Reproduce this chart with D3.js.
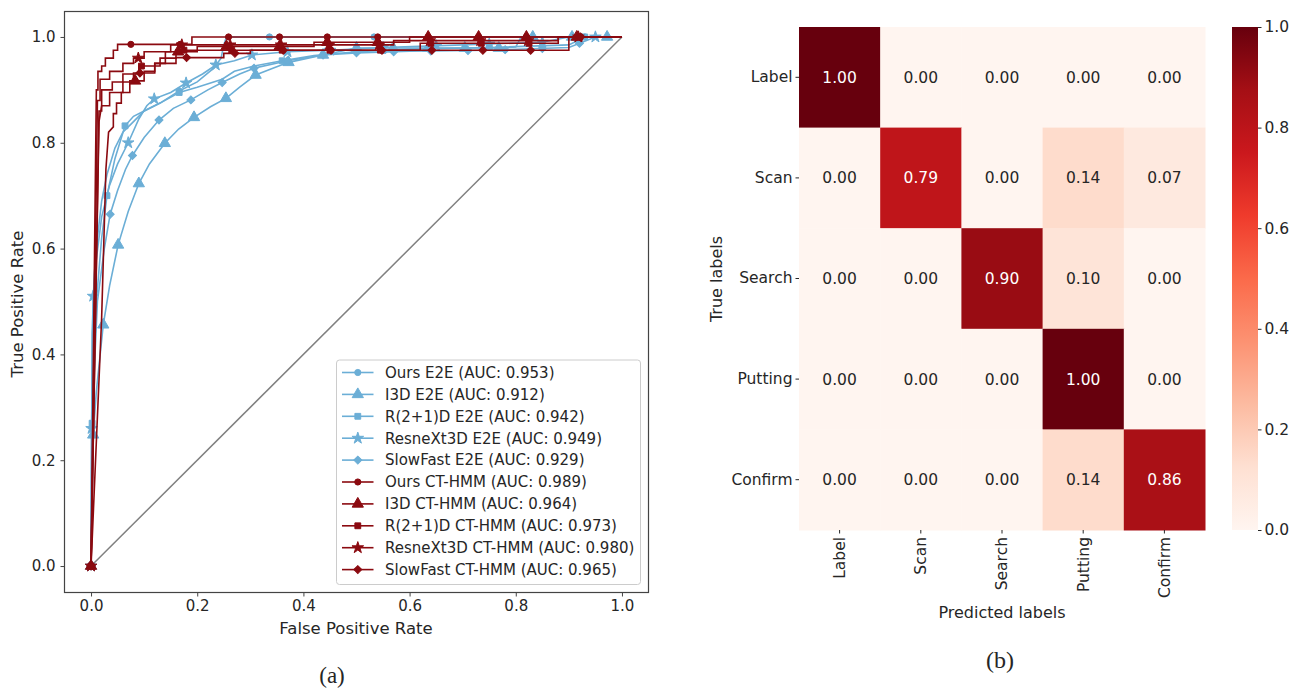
<!DOCTYPE html>
<html lang="en">
<head>
  <meta charset="UTF-8">
  <title>ROC + confusion matrix</title>
  <script src="https://cdn.jsdelivr.net/npm/d3@7"></script>
  <style>
    body { margin: 0; background: #fff; }
    svg text { font-family: "DejaVu Sans", sans-serif; fill: #262626; }
    .caption { font-family: "Liberation Serif", "DejaVu Serif", serif !important; }
  </style>
</head>
<body>
<svg width="1293" height="689"></svg>
<script>
  // ---- ROC curves (fpr, tpr vertices) ----
  const oursE2E = [[0,0],[0.002,0.44],[0.006,0.55],[0.012,0.62],[0.02,0.69],[0.03,0.74],[0.045,0.79],[0.06,0.82],[0.08,0.84],[0.1,0.86],[0.13,0.875],[0.166,0.898],[0.2,0.915],[0.23,0.94],[0.245,0.96],[0.25,0.985],[0.255,1],[1,1]];
  const i3dE2E = [[0,0],[0.004,0.248],[0.01,0.33],[0.023,0.456],[0.035,0.53],[0.051,0.607],[0.07,0.67],[0.09,0.723],[0.11,0.76],[0.139,0.799],[0.165,0.826],[0.194,0.848],[0.225,0.868],[0.254,0.884],[0.28,0.905],[0.31,0.928],[0.34,0.94],[0.372,0.952],[0.437,0.966],[0.5,0.979],[0.768,0.979],[0.8,0.981],[0.81,1],[1,1]];
  const r21dE2E = [[0,0],[0.002,0.27],[0.01,0.5],[0.02,0.62],[0.03,0.7],[0.045,0.77],[0.064,0.832],[0.08,0.85],[0.1,0.86],[0.13,0.875],[0.166,0.895],[0.2,0.905],[0.247,0.92],[0.27,0.935],[0.307,0.945],[0.36,0.955],[0.42,0.965],[0.5,0.972],[0.6,0.977],[0.75,0.98],[0.9,0.985],[0.93,1],[1,1]];
  const resnextE2E = [[0,0],[0.001,0.26],[0.004,0.51],[0.01,0.58],[0.02,0.66],[0.035,0.72],[0.05,0.76],[0.07,0.8],[0.09,0.845],[0.105,0.87],[0.119,0.883],[0.15,0.895],[0.179,0.913],[0.21,0.93],[0.235,0.947],[0.27,0.955],[0.303,0.966],[0.37,0.972],[0.45,0.975],[0.55,0.98],[0.7,0.985],[0.85,0.99],[0.9,1],[1,1]];
  const slowfastE2E = [[0,0],[0.003,0.3],[0.012,0.5],[0.025,0.6],[0.036,0.665],[0.05,0.71],[0.065,0.75],[0.078,0.776],[0.1,0.81],[0.128,0.843],[0.155,0.865],[0.188,0.881],[0.22,0.9],[0.247,0.914],[0.28,0.93],[0.307,0.941],[0.37,0.955],[0.437,0.966],[0.5,0.97],[0.6,0.973],[0.75,0.975],[0.9,0.98],[0.95,1],[1,1]];

  const oursCT = [[0,0],[0.01,0.9],[0.013,0.9],[0.013,0.935],[0.02,0.935],[0.02,0.945],[0.027,0.945],[0.027,0.96],[0.042,0.96],[0.042,0.975],[0.05,0.975],[0.05,0.986],[0.19,0.986],[0.19,1],[1,1]];
  const i3dCT = [[0,0],[0.02,0.47],[0.028,0.75],[0.033,0.82],[0.042,0.83],[0.042,0.855],[0.048,0.855],[0.048,0.875],[0.057,0.875],[0.057,0.895],[0.073,0.895],[0.073,0.917],[0.1,0.917],[0.1,0.935],[0.12,0.935],[0.12,0.95],[0.14,0.95],[0.14,0.972],[0.2,0.972],[0.2,0.982],[0.42,0.982],[0.42,0.99],[0.6,0.99],[0.6,1],[1,1]];
  const r21dCT = [[0,0],[0.015,0.86],[0.02,0.86],[0.02,0.9],[0.04,0.9],[0.04,0.915],[0.06,0.915],[0.06,0.93],[0.09,0.93],[0.09,0.945],[0.13,0.945],[0.13,0.96],[0.16,0.96],[0.16,0.975],[0.62,0.975],[0.62,0.988],[0.88,0.988],[0.88,1],[1,1]];
  const resnextCT = [[0,0],[0.012,0.88],[0.017,0.88],[0.017,0.92],[0.035,0.92],[0.035,0.935],[0.06,0.935],[0.06,0.95],[0.08,0.95],[0.08,0.96],[0.1,0.96],[0.1,0.972],[0.15,0.972],[0.15,0.985],[0.57,0.985],[0.57,0.993],[0.88,0.993],[0.88,1],[1,1]];
  const slowfastCT = [[0,0],[0.015,0.84],[0.02,0.87],[0.035,0.87],[0.035,0.895],[0.06,0.895],[0.06,0.915],[0.08,0.915],[0.08,0.932],[0.12,0.932],[0.12,0.95],[0.16,0.95],[0.16,0.961],[0.25,0.961],[0.25,0.969],[0.3,0.969],[0.3,0.975],[0.9,0.975],[0.9,1],[1,1]];

  // fpr positions of the markers on each curve
  const oursE2EMarks = [0, 0.166, 0.336, 0.533, 0.73, 0.93];
  const i3dE2EMarks = [0, 0.004, 0.023, 0.051, 0.09, 0.139, 0.194, 0.254, 0.31, 0.372, 0.437, 0.5, 0.569, 0.635, 0.704, 0.768, 0.832, 0.906, 0.972];
  const r21dE2EMarks = [0, 0.002, 0.03, 0.064, 0.166, 0.36, 0.55, 0.75, 0.93];
  const resnextE2EMarks = [0, 0.001, 0.004, 0.07, 0.119, 0.179, 0.235, 0.303, 0.37, 0.45, 0.55, 0.65, 0.75, 0.85, 0.95];
  const slowfastE2EMarks = [0, 0.036, 0.078, 0.128, 0.188, 0.247, 0.307, 0.37, 0.437, 0.5, 0.57, 0.64, 0.71, 0.78, 0.85, 0.92];
  const oursCTMarks = [0, 0.075, 0.168, 0.259, 0.355, 0.445, 0.54, 0.635, 0.73, 0.82, 0.915];
  const i3dCTMarks = [0, 0.083, 0.164, 0.255, 0.355, 0.445, 0.54, 0.635, 0.73, 0.82, 0.915];
  const r21dCTMarks = [0, 0.095, 0.175, 0.265, 0.36, 0.45, 0.545, 0.64, 0.735, 0.825, 0.92];
  const resnextCTMarks = [0, 0.089, 0.171, 0.262, 0.358, 0.448, 0.542, 0.638, 0.733, 0.823, 0.918];
  const slowfastCTMarks = [0, 0.092, 0.18, 0.271, 0.362, 0.452, 0.548, 0.642, 0.738, 0.828, 0.922];

  const seriesNames = ["Ours E2E", "I3D E2E", "R(2+1)D E2E", "ResneXt3D E2E", "SlowFast E2E",
                       "Ours CT-HMM", "I3D CT-HMM", "R(2+1)D CT-HMM", "ResneXt3D CT-HMM", "SlowFast CT-HMM"];
  const seriesAUC = [0.953, 0.912, 0.942, 0.949, 0.929, 0.989, 0.964, 0.973, 0.980, 0.965];
  const seriesCurves = [oursE2E, i3dE2E, r21dE2E, resnextE2E, slowfastE2E, oursCT, i3dCT, r21dCT, resnextCT, slowfastCT];
  const seriesMarks = [oursE2EMarks, i3dE2EMarks, r21dE2EMarks, resnextE2EMarks, slowfastE2EMarks,
                       oursCTMarks, i3dCTMarks, r21dCTMarks, resnextCTMarks, slowfastCTMarks];
  const rocTicks = [0, 0.2, 0.4, 0.6, 0.8, 1.0];

  // ---- confusion matrix ----
  const classes = ["Label", "Scan", "Search", "Putting", "Confirm"];
  const matrix = [
    [1.00, 0.00, 0.00, 0.00, 0.00],
    [0.00, 0.79, 0.00, 0.14, 0.07],
    [0.00, 0.00, 0.90, 0.10, 0.00],
    [0.00, 0.00, 0.00, 1.00, 0.00],
    [0.00, 0.00, 0.00, 0.14, 0.86]
  ];
  const cbarTicks = [0, 0.2, 0.4, 0.6, 0.8, 1.0];
  const redsStops = ["#fff5f0","#fee0d2","#fcbba1","#fc9272","#fb6a4a","#ef3b2c","#cb181d","#a50f15","#67000d"];

  const svg = d3.select("svg");
  const blue = "#6baed6", red = "#8b0a10";

  // ================= (a) ROC =================
  const x = d3.scaleLinear().domain([-0.05, 1.05]).range([64.5, 648.5]);
  const y = d3.scaleLinear().domain([-0.05, 1.05]).range([592.5, 10.5]);

  const gA = svg.append("g");
  gA.append("line")
    .attr("x1", x(0)).attr("y1", y(0)).attr("x2", x(1)).attr("y2", y(1))
    .attr("stroke", "#808080").attr("stroke-width", 1.5);

  function yAt(pts, fx) {
    for (let i = 0; i < pts.length - 1; i++) {
      const a = pts[i], b = pts[i + 1];
      if (fx === a[0]) return a[1];
      if (fx > a[0] && fx <= b[0]) return a[1] + (b[1] - a[1]) * (fx - a[0]) / (b[0] - a[0]);
    }
    return pts[pts.length - 1][1];
  }

  const symTypes = ["circle", "triangle", "square", "star", "diamond"];
  function markerPath(type) {
    switch (type) {
      case "circle": return d3.symbol(d3.symbolCircle, 30)();
      case "triangle": return d3.symbol(d3.symbolTriangle, 55)();
      case "square": return d3.symbol(d3.symbolSquare, 34)();
      case "star": return d3.symbol(d3.symbolStar, 42)();
      case "diamond": return d3.symbol(d3.symbolSquare, 32)();
    }
  }
  function addMarker(g, type, px, py, color) {
    g.append("path")
      .attr("d", markerPath(type))
      .attr("transform", `translate(${px},${py})` + (type === "diamond" ? " rotate(45)" : ""))
      .attr("fill", color).attr("stroke", color).attr("stroke-width", 1);
  }

  const line = d3.line().x(d => x(d[0])).y(d => y(d[1]));
  seriesCurves.forEach((pts, i) => {
    const color = i < 5 ? blue : red;
    const g = gA.append("g");
    g.append("path").attr("d", line(pts))
      .attr("fill", "none").attr("stroke", color).attr("stroke-width", 1.6)
      .attr("stroke-linejoin", "miter");
    seriesMarks[i].forEach(m => addMarker(g, symTypes[i % 5], x(m), y(yAt(pts, m)), color));
  });

  // frame
  gA.append("rect").attr("x", 64.5).attr("y", 11.5).attr("width", 584).attr("height", 581)
    .attr("fill", "none").attr("stroke", "#444").attr("stroke-width", 1.2);

  const fmt1 = d3.format(".1f");
  gA.append("g").attr("transform", "translate(0,592.5)")
    .call(d3.axisBottom(x).tickValues(rocTicks).tickFormat(fmt1).tickSize(4).tickPadding(4))
    .call(g => g.select(".domain").remove())
    .call(g => g.selectAll("line").attr("stroke", "#444"))
    .call(g => g.selectAll("text").attr("font-size", 15).attr("fill", "#262626"));
  gA.append("g").attr("transform", "translate(64.5,0)")
    .call(d3.axisLeft(y).tickValues(rocTicks).tickFormat(fmt1).tickSize(4).tickPadding(5))
    .call(g => g.select(".domain").remove())
    .call(g => g.selectAll("line").attr("stroke", "#444"))
    .call(g => g.selectAll("text").attr("font-size", 15).attr("fill", "#262626"));

  gA.append("text").attr("x", 356).attr("y", 634).attr("text-anchor", "middle")
    .attr("font-size", 16.5).text("False Positive Rate");
  gA.append("text").attr("transform", "translate(23,304) rotate(-90)").attr("text-anchor", "middle")
    .attr("font-size", 16.5).text("True Positive Rate");

  // legend
  const lg = gA.append("g").attr("transform", "translate(336.5,360)");
  lg.append("rect").attr("width", 304).attr("height", 224.5).attr("rx", 3)
    .attr("fill", "white").attr("fill-opacity", 0.85).attr("stroke", "#cccccc");
  seriesNames.forEach((name, i) => {
    const color = i < 5 ? blue : red;
    const cy = 12.5 + i * 21.9;
    lg.append("line").attr("x1", 5.5).attr("x2", 37).attr("y1", cy).attr("y2", cy)
      .attr("stroke", color).attr("stroke-width", 1.6);
    addMarker(lg, symTypes[i % 5], 21.3, cy, color);
    lg.append("text").attr("x", 48.5).attr("y", cy + 5.3).attr("font-size", 15)
      .text(`${name} (AUC: ${seriesAUC[i].toFixed(3)})`);
  });

  svg.append("text").attr("class", "caption").attr("x", 332).attr("y", 683)
    .attr("text-anchor", "middle").attr("font-size", 23).text("(a)");

  // ================= (b) confusion matrix =================
  const cx = d3.scaleBand().domain(classes).range([799, 1205]);
  const cy = d3.scaleBand().domain(classes).range([27, 530]);
  const color = d3.scaleLinear().domain(d3.range(redsStops.length).map(i => i / (redsStops.length - 1)))
    .range(redsStops).interpolate(d3.interpolateRgb).clamp(true);

  const gB = svg.append("g");
  const cells = [];
  matrix.forEach((row, r) => row.forEach((v, c) => cells.push({ r, c, v })));
  gB.selectAll("rect.cell").data(cells).join("rect").attr("class", "cell")
    .attr("x", d => cx(classes[d.c])).attr("y", d => cy(classes[d.r]))
    .attr("width", cx.bandwidth() + 0.5).attr("height", cy.bandwidth() + 0.5)
    .attr("fill", d => color(d.v));
  gB.selectAll("text.val").data(cells).join("text").attr("class", "val")
    .attr("x", d => cx(classes[d.c]) + cx.bandwidth() / 2)
    .attr("y", d => cy(classes[d.r]) + cy.bandwidth() / 2 + 5.5)
    .attr("text-anchor", "middle").attr("font-size", 15.5)
    .style("fill", d => d.v > 0.5 ? "#ffffff" : "#262626")
    .text(d => d.v.toFixed(2));

  gB.append("g").attr("transform", "translate(799,0)")
    .call(d3.axisLeft(cy).tickSize(3.5).tickPadding(3))
    .call(g => g.select(".domain").remove())
    .call(g => g.selectAll("line").attr("stroke", "#262626"))
    .call(g => g.selectAll("text").attr("font-size", 15.5).attr("fill", "#262626"));
  gB.append("g").attr("transform", "translate(0,530)")
    .call(d3.axisBottom(cx).tickSize(3.5).tickPadding(3))
    .call(g => g.select(".domain").remove())
    .call(g => g.selectAll("line").attr("stroke", "#262626"))
    .call(g => g.selectAll("text").attr("font-size", 15.5).attr("fill", "#262626")
      .attr("transform", "rotate(-90)").attr("text-anchor", "end")
      .attr("x", -7).attr("y", 0).attr("dy", "0.35em"));

  gB.append("text").attr("x", 1002).attr("y", 618).attr("text-anchor", "middle")
    .attr("font-size", 16).text("Predicted labels");
  gB.append("text").attr("transform", "translate(722,279) rotate(-90)").attr("text-anchor", "middle")
    .attr("font-size", 16).text("True labels");

  // colorbar
  const defs = svg.append("defs");
  const grad = defs.append("linearGradient").attr("id", "reds")
    .attr("x1", 0).attr("y1", 1).attr("x2", 0).attr("y2", 0);
  redsStops.forEach((c, i) => grad.append("stop")
    .attr("offset", i / (redsStops.length - 1)).attr("stop-color", c));
  const cb = d3.scaleLinear().domain([0, 1]).range([530, 27]);
  gB.append("rect").attr("x", 1232).attr("y", 27).attr("width", 26).attr("height", 503)
    .attr("fill", "url(#reds)");
  gB.append("g").attr("transform", "translate(1258,0)")
    .call(d3.axisRight(cb).tickValues(cbarTicks).tickFormat(fmt1).tickSize(3.5).tickPadding(3))
    .call(g => g.select(".domain").remove())
    .call(g => g.selectAll("line").attr("stroke", "#262626"))
    .call(g => g.selectAll("text").attr("font-size", 15.5).attr("fill", "#262626"));

  svg.append("text").attr("class", "caption").attr("x", 1000).attr("y", 668)
    .attr("text-anchor", "middle").attr("font-size", 24).text("(b)");
</script>
</body>
</html>
